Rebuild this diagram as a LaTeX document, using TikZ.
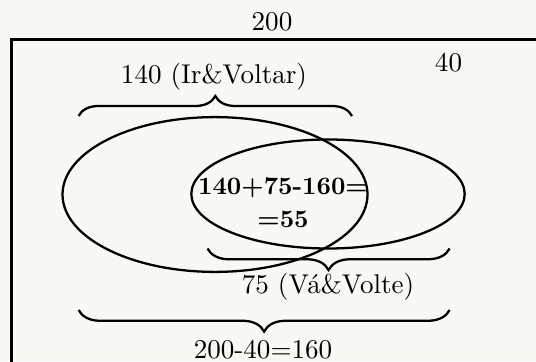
\documentclass[tikz,border=0pt]{standalone}
\usetikzlibrary{decorations.pathreplacing}
\definecolor{bgcol}{RGB}{250,248,244}
\begin{document}
\begin{tikzpicture}[x=0.01388cm,y=-0.01388cm,
  lbl/.style={inner sep=0pt, font=\fontsize{10.7}{13.5}\selectfont},
  curly/.style={decorate, decoration={brace, amplitude=#1}, line width=0.9pt},
  curly/.default=8pt,
  oval/.style={line width=0.9pt}]
\fill[bgcol] (0,0) rectangle (536,361);
\useasboundingbox (0,0) rectangle (536,361);
\begin{scope}
\clip (0,0) rectangle (536,361);
\draw[line width=1.1pt] (11.5,39.5) rectangle (600,420);
\end{scope}
\node[lbl] (total) at (272,22) {200};
\node[lbl] (outside) at (448.5,63) {40};
\node[lbl] (irlbl) at (214,77) {140 (Ir\&Voltar)};
\coordinate (b1l) at (78.6,116);
\coordinate (b1r) at (352,116);
\draw[curly=7.9pt] (b1l) -- (b1r);
\draw[oval] (215,194.5) ellipse [x radius=152.5, y radius=77.4];
\draw[oval] (328,194) ellipse [x radius=136.7, y radius=54.5];
\node[lbl, font=\fontsize{9.9}{13}\selectfont\bfseries, align=center] (inter) at (283,202.5) {140+75-160=\\=55};
\coordinate (b2l) at (207.5,248.5);
\coordinate (b2r) at (449.6,248.5);
\draw[curly=8.5pt] (b2r) -- (b2l);
\node[lbl] (valbl) at (328,286.5) {75 (Vá\&Volte)};
\coordinate (b3l) at (78.6,310);
\coordinate (b3r) at (449.6,310);
\draw[curly=8.5pt] (b3r) -- (b3l);
\node[lbl] (sumlbl) at (263,350) {200-40=160};
\end{tikzpicture}
\end{document}
